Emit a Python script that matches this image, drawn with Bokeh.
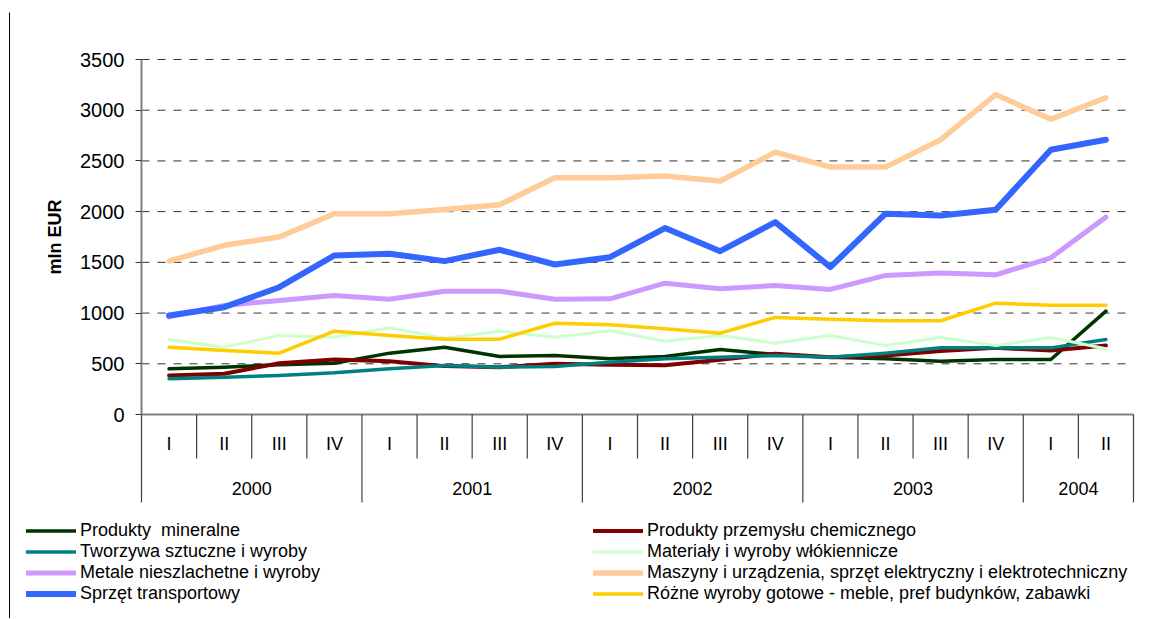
import math
from bokeh.plotting import figure
from bokeh.models import Range1d, FixedTicker, Legend, LegendItem
from bokeh.core.properties import value
from bokeh.embed import file_html
from bokeh.resources import INLINE

# ---------------- data ----------------
years = ["2000", "2001", "2002", "2003", "2004"]
quarters_per_year = [4, 4, 4, 4, 2]
quarters = ["I", "II", "III", "IV", "I", "II", "III", "IV", "I", "II", "III", "IV",
            "I", "II", "III", "IV", "I", "II"]

mineralne = [450, 467, 490, 506, 605, 664, 572, 582, 549, 572, 641, 592, 565, 549, 526, 542, 542, 1019]
chemiczne = [385, 401, 506, 542, 526, 477, 467, 500, 490, 486, 539, 598, 565, 582, 625, 657, 631, 680]
tworzywa = [352, 368, 385, 411, 450, 483, 467, 473, 516, 549, 565, 582, 565, 605, 657, 657, 657, 740]
materialy = [740, 664, 779, 762, 855, 753, 821, 762, 825, 723, 779, 703, 779, 680, 759, 680, 759, 648]
metale = [962, 1075, 1124, 1173, 1137, 1216, 1216, 1137, 1140, 1295, 1240, 1272, 1233, 1371, 1394, 1377, 1545, 1946]
maszyny = [1513, 1668, 1750, 1980, 1980, 2020, 2069, 2335, 2335, 2351, 2301, 2587, 2439, 2439, 2709, 3154, 2911, 3123]
transport = [976, 1058, 1255, 1568, 1585, 1512, 1624, 1479, 1551, 1838, 1610, 1897, 1453, 1980, 1963, 2019, 2610, 2709]
rozne = [664, 631, 605, 821, 779, 743, 743, 900, 885, 845, 802, 957, 940, 924, 924, 1098, 1078, 1078]

series_names = [
    "Produkty  mineralne",
    "Produkty przemysłu chemicznego",
    "Tworzywa sztuczne i wyroby",
    "Materiały i wyroby włókiennicze",
    "Metale nieszlachetne i wyroby",
    "Maszyny i urządzenia, sprzęt elektryczny i elektrotechniczny",
    "Sprzęt transportowy",
    "Różne wyroby gotowe - meble, pref budynków, zabawki",
]
series_values = [mineralne, chemiczne, tworzywa, materialy, metale, maszyny, transport, rozne]
series_colors = ["#003300", "#800000", "#008080", "#CCFFCC", "#CC99FF", "#FFCC99", "#3366FF", "#FFCC00"]
series_widths = [3.5, 4, 3.5, 3, 5, 5.5, 6, 3.5]

y_ticks = [0, 500, 1000, 1500, 2000, 2500, 3000, 3500]
Y_MAX = 3500

FONT = "Liberation Sans"

# ---------------- layout (pixel geometry of the canvas) ----------------
W, H = 1148, 618
n = len(quarters)
X0_PX = 141.0            # left edge of category area
X1_PX = 1133.0           # right edge of category area
Y0_PX = 414.0            # baseline (value 0)
YTOP_PX = 59.0           # value Y_MAX
CAT_W = (X1_PX - X0_PX) / n
PX_PER_UNIT = (Y0_PX - YTOP_PX) / Y_MAX


def dx(px):  # pixel offset -> data x units
    return px / CAT_W


def dy(px):  # pixel offset (downwards positive) -> data y units
    return -px / PX_PER_UNIT


x_start = dx(-X0_PX)
x_end = dx(W - X0_PX)
y_top = Y0_PX / PX_PER_UNIT
y_bottom = dy(H - Y0_PX)

p = figure(width=W, height=H, output_backend="svg", toolbar_location=None,
           x_range=Range1d(x_start, x_end), y_range=Range1d(y_bottom, y_top),
           x_axis_location=None,
           min_border_left=0, min_border_right=0, min_border_top=0, min_border_bottom=0)
p.outline_line_color = None
p.xgrid.visible = False
p.ygrid.visible = False

# y axis placed at x = 0 inside the frame
yax = p.yaxis[0]
yax.fixed_location = 0
yax.ticker = FixedTicker(ticks=y_ticks)
yax.bounds = (0, Y_MAX)
yax.axis_line_color = "#808080"
yax.axis_line_width = 2
yax.major_tick_line_color = "#333333"
yax.major_tick_out = 6
yax.major_tick_in = 0
yax.minor_tick_line_color = None
yax.major_label_text_font = FONT
yax.major_label_text_font_size = "20px"
yax.major_label_text_color = "#000000"
yax.major_label_standoff = 11
yax.axis_label = "mln EUR"
yax.axis_label_text_font = FONT
yax.axis_label_text_font_size = "18px"
yax.axis_label_text_font_style = "bold"
yax.axis_label_text_color = "#000000"
yax.axis_label_standoff = 12

# dashed gridlines
grid_vals = [t for t in y_ticks if t > 0]
p.segment(x0=[0] * len(grid_vals), y0=grid_vals, x1=[n] * len(grid_vals), y1=grid_vals,
          line_color="#333333", line_width=1, line_dash="8 8")

# outer frame line on the left
p.segment(x0=[dx(9 - X0_PX)], y0=[dy(12 - Y0_PX)], x1=[dx(9 - X0_PX)], y1=[y_bottom],
          line_color="#000000", line_width=1)

# x axis line and category separators
p.segment(x0=[0], y0=[0], x1=[n], y1=[0], line_color="#808080", line_width=2)

year_bounds = [0]
for q in quarters_per_year:
    year_bounds.append(year_bounds[-1] + q)
sep_x = list(range(n + 1))
sep_y1 = [dy(88) if k in year_bounds else dy(44) for k in sep_x]
p.segment(x0=sep_x, y0=[0] * len(sep_x), x1=sep_x, y1=sep_y1, line_color="#404040", line_width=1.2)

xs = [i + 0.5 for i in range(n)]
p.text(x=xs, y=[dy(29)] * n, text=quarters, text_font=value(FONT), text_font_size="18px",
       text_align="center", text_baseline="middle", text_color="#000000")
year_x = [(year_bounds[i] + year_bounds[i + 1]) / 2 for i in range(len(years))]
p.text(x=year_x, y=[dy(73.5)] * len(years), text=years, text_font=value(FONT), text_font_size="18px",
       text_align="center", text_baseline="middle", text_color="#000000")

# series
renderers = []
for vals, col, w in zip(series_values, series_colors, series_widths):
    r = p.line(xs, vals, line_color=col, line_width=w, line_join="round", line_cap="round")
    renderers.append(r)

left_items = [LegendItem(label=series_names[i], renderers=[renderers[i]]) for i in (0, 2, 4, 6)]
right_items = [LegendItem(label=series_names[i], renderers=[renderers[i]]) for i in (1, 3, 5, 7)]

for items, loc in ((left_items, (26, 14)), (right_items, (593, 14))):
    lg = Legend(items=items, location=loc, orientation="vertical",
                glyph_width=50, glyph_height=21, label_height=21, label_standoff=4,
                spacing=0, padding=0, margin=0, border_line_color=None,
                background_fill_alpha=0, label_text_font=FONT, label_text_font_size="18px",
                label_text_color="#000000")
    p.add_layout(lg, "center")

open("out.html", "w").write(file_html(p, INLINE))
